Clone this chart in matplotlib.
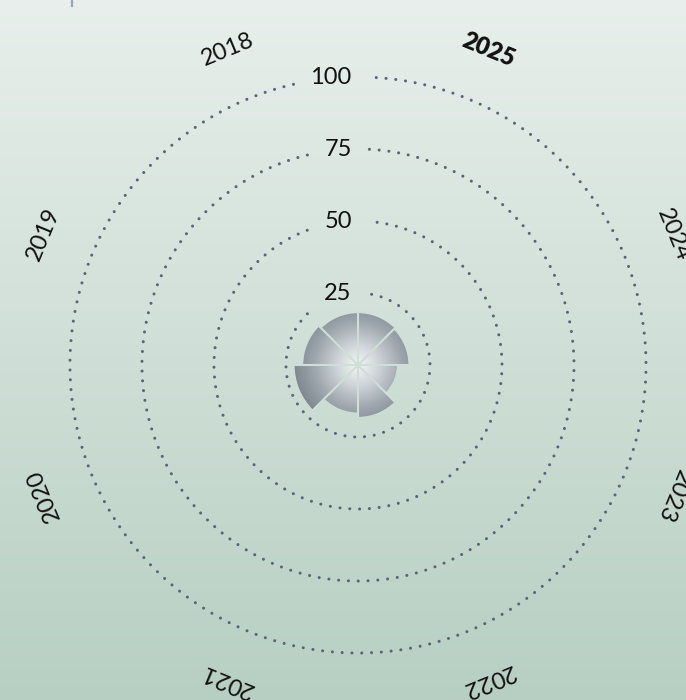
#!/usr/bin/env python3
"""
Radial bar chart of yearly values (2018-2025) on a soft green background.
"""

import matplotlib
matplotlib.use("Agg")
import matplotlib.pyplot as plt
from matplotlib.colors import LinearSegmentedColormap, to_rgb
from matplotlib.lines import Line2D
import numpy as np

# data, counter-clockwise from north
years = ["2018", "2019", "2020", "2021", "2022", "2023", "2024", "2025"]
values = [18, 19, 22, 16.5, 18, 13.5, 17.5, 18]
highlight = "2025"
ring_levels = [25, 50, 75, 100]
ring_labels = ["25", "50", "75", "100"]

BG_TOP = "#e8efec"
BG_BOTTOM = "#b7cfc2"
GAP_COLOR = "#cfded6"
RING_COLOR = "#5a6477"
FONT = ["Lato", "DejaVu Sans"]

plt.rcParams["font.family"] = FONT
plt.rcParams["path.simplify"] = False

fig = plt.figure(figsize=(6.86, 7.0), dpi=100)

# background gradient
bg = fig.add_axes([0, 0, 1, 1], zorder=-10)
top = np.array(to_rgb(BG_TOP))
bot = np.array(to_rgb(BG_BOTTOM))
t = np.linspace(0, 1, 256)[:, None]
grad = top[None, None, :] * (1 - t[..., None]) + bot[None, None, :] * t[..., None]
grad = np.repeat(grad, 2, axis=1)
bg.imshow(grad, aspect="auto", extent=[0, 1, 0, 1], origin="upper")
bg.axis("off")

# small grey tick at the top-left edge
fig.add_artist(Line2D([0.105, 0.105], [0.991, 1.0], color="#9aa8ae", lw=1.6))

ax = fig.add_axes([0.102, 0.0671, 0.8397, 0.8229], projection="polar")
ax.set_facecolor("none")
ax.set_theta_zero_location("N")
ax.set_theta_direction(1)
ax.set_ylim(0, 100)
ax.set_xticks([])
ax.set_yticks([])
ax.grid(False)
ax.spines["polar"].set_visible(False)

n = len(years)
width = 2 * np.pi / n
centers = np.arange(n) * width + width / 2

# radial gradient bars: stacked from outside in so no seams show
cmap = LinearSegmentedColormap.from_list(
    "steel", ["#f6f8f8", "#ccd2d6", "#9ea6ad", "#7c858d"])
grad_max = 23.0
steps = 90
for c, v in zip(centers, values):
    radii = np.linspace(v, 0, steps, endpoint=False)
    for r in radii:
        ax.bar(c, r, width=width, bottom=0, align="center",
               color=cmap(min(r / grad_max, 1.0)), edgecolor="none",
               linewidth=0, zorder=2)

# thin gaps between sectors
for k in range(n):
    edge = k * width
    reach = max(values[k], values[k - 1]) + 0.3
    ax.plot([edge, edge], [0, reach], color=GAP_COLOR, lw=1.5,
            solid_capstyle="butt", zorder=3)

# ring labels
label_texts = []
for lvl, lab in zip(ring_levels, ring_labels):
    txt = ax.annotate(lab, xy=(0, lvl), xytext=(-4.5, 0),
                      textcoords="offset points", ha="right", va="center",
                      fontsize=17, color="#111111", zorder=5,
                      annotation_clip=False)
    label_texts.append(txt)

# year labels
for c, yr in zip(centers, years):
    ax.text(c, 118.4, yr, rotation=np.degrees(c), rotation_mode="anchor",
            ha="center", va="center", fontsize=17,
            fontweight="heavy" if yr == highlight else "normal",
            color="#111111", clip_on=False)

# dotted rings with a break around each label
fig.canvas.draw()
renderer = fig.canvas.get_renderer()
cx, cy = ax.transData.transform((0, 0))
pad = 17
for lvl, txt in zip(ring_levels, label_texts):
    bb = txt.get_window_extent(renderer)
    rpx = ax.transData.transform((0, lvl))[1] - cy
    left = np.arcsin(np.clip((cx - (bb.x0 - pad)) / rpx, -1, 1))
    right = np.arcsin(np.clip(((bb.x1 + pad) - cx) / rpx, -1, 1))
    theta = np.linspace(left, 2 * np.pi - right, 360)
    ax.plot(theta, np.full_like(theta, lvl), color=RING_COLOR, lw=2.2,
            linestyle=(0, (0.01, 3.2)), dash_capstyle="round", zorder=1,
            clip_on=False)

fig.savefig("out.png", dpi=100)
